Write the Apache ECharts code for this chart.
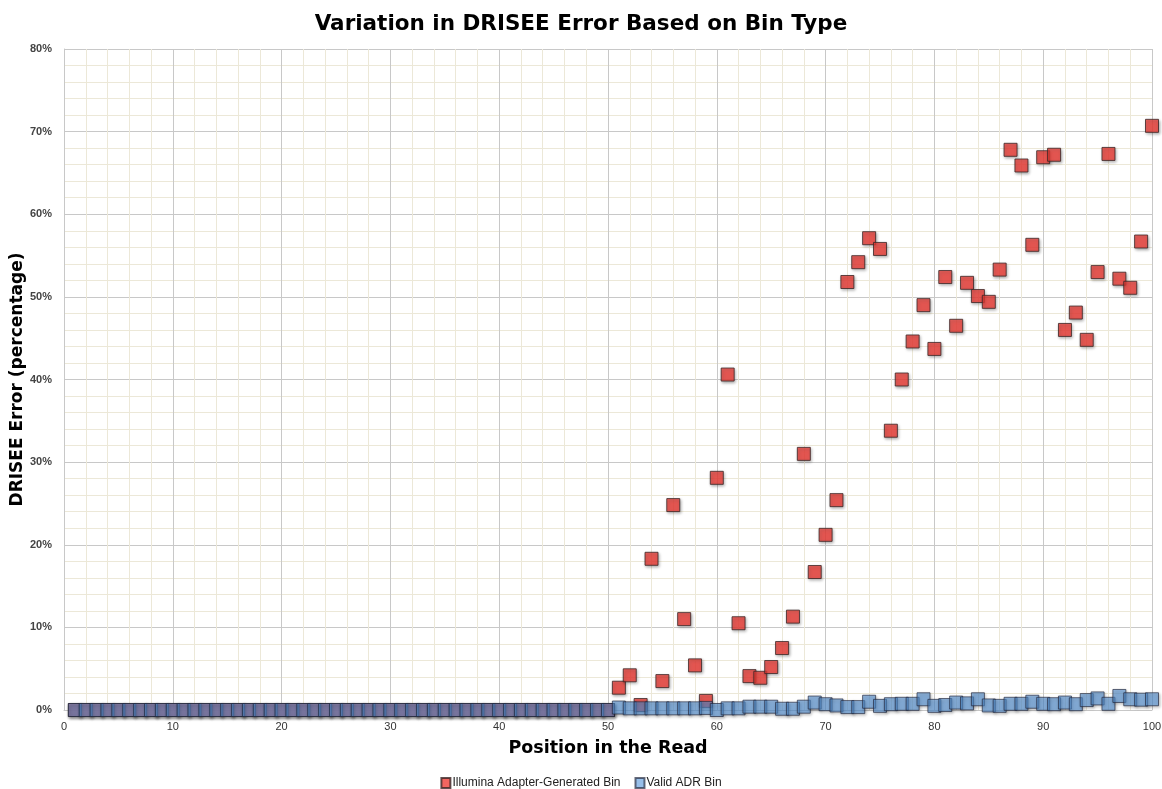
<!DOCTYPE html>
<html>
<head>
<meta charset="utf-8">
<script src="https://cdn.jsdelivr.net/npm/echarts@6/dist/echarts.min.js"></script>
<style>
html,body{margin:0;padding:0;background:#fff;}
#chart{width:1162px;height:789px;}
</style>
</head>
<body>
<div id="chart"></div>
<script>
// Positions in the read (1..100)
const positions = Array.from({length: 100}, (_, i) => i + 1);

// Illumina Adapter-Generated Bin (%), positions 1..50 then 51..100
const illuminaFirst = [0,0,0,0,0,0,0,0,0,0, 0,0,0,0,0,0,0,0,0,0, 0,0,0,0,0,0,0,0,0,0, 0,0,0,0,0,0,0,0,0,0, 0,0,0,0,0,0,0,0,0,0];
const illuminaSecond = [2.7,4.2,0.6,18.3,3.5,24.8,11.0,5.4,1.1,28.1,
  40.6,10.5,4.1,3.9,5.2,7.5,11.3,31.0,16.7,21.2,
  25.4,51.8,54.2,57.1,55.8,33.8,40.0,44.6,49.0,43.7,
  52.4,46.5,51.7,50.1,49.4,53.3,67.8,65.9,56.3,66.9,
  67.2,46.0,48.1,44.8,53.0,67.3,52.2,51.1,56.7,70.7];

// Valid ADR Bin (%)
const adrFirst = [0,0,0,0,0,0,0,0,0,0, 0,0,0,0,0,0,0,0,0,0, 0,0,0,0,0,0,0,0,0,0, 0,0,0,0,0,0,0,0,0,0, 0,0,0,0,0,0,0,0,0,0];
const adrSecond = [0.3,0.2,0.2,0.2,0.2,0.2,0.2,0.2,0.25,0.0,
  0.2,0.2,0.4,0.4,0.4,0.15,0.15,0.4,0.9,0.7,
  0.55,0.35,0.35,1.0,0.5,0.7,0.75,0.75,1.3,0.5,
  0.6,0.9,0.8,1.3,0.55,0.5,0.75,0.75,1.0,0.75,
  0.7,0.9,0.7,1.2,1.4,0.75,1.7,1.3,1.25,1.3];

const illumina = illuminaFirst.concat(illuminaSecond);
const adr = adrFirst.concat(adrSecond);

const xTicks = [0,10,20,30,40,50,60,70,80,90,100];
const yTicks = ['0%','10%','20%','30%','40%','50%','60%','70%','80%'];

const seriesNames = ['Illumina Adapter-Generated Bin', 'Valid ADR Bin'];

const chart = echarts.init(document.getElementById('chart'), null, {renderer: 'canvas'});
const shadow = {shadowBlur: 3, shadowColor: 'rgba(0,0,0,0.4)', shadowOffsetX: 1, shadowOffsetY: 1.5};

chart.setOption({
  backgroundColor: '#ffffff',
  animation: false,
  title: {
    text: 'Variation in DRISEE Error Based on Bin Type',
    left: 'center',
    top: 8,
    textStyle: {fontFamily: 'DejaVu Sans', fontWeight: 900, fontSize: 21.5, color: '#000'}
  },
  legend: {
    top: 772,
    left: 'center',
    itemWidth: 9,
    itemHeight: 10,
    itemGap: 14,
    icon: 'rect',
    textStyle: {fontFamily: 'Liberation Sans', fontSize: 12, color: '#222', padding: [0,0,0,-3]},
    data: seriesNames
  },
  grid: {left: 64, right: 10, top: 49, bottom: 79, containLabel: false, outerBoundsMode: 'none'},
  xAxis: {
    type: 'value',
    min: 0, max: 100, interval: 10,
    name: 'Position in the Read',
    nameLocation: 'middle',
    nameGap: 29,
    nameMoveOverlap: false,
    nameTextStyle: {fontFamily: 'DejaVu Sans', fontWeight: 'bold', fontSize: 17.5, color: '#000'},
    axisLine: {show: true, lineStyle: {color: '#c8c8c8', width: 1}},
    axisTick: {show: false},
    axisLabel: {
      fontFamily: 'Liberation Sans', fontSize: 11, color: '#333', margin: 11,
      formatter: v => (xTicks.indexOf(v) >= 0 ? String(v) : '')
    },
    splitLine: {show: true, lineStyle: {color: '#c8c8c8', width: 1}},
    minorTick: {show: false, splitNumber: 5},
    minorSplitLine: {show: true, lineStyle: {color: '#ece8d8', width: 1}}
  },
  yAxis: {
    type: 'value',
    min: 0, max: 80, interval: 10,
    name: 'DRISEE Error (percentage)',
    nameLocation: 'middle',
    nameGap: 38,
    nameMoveOverlap: false,
    nameTextStyle: {fontFamily: 'DejaVu Sans', fontWeight: 'bold', fontSize: 17, color: '#000'},
    axisLine: {show: true, lineStyle: {color: '#c8c8c8', width: 1}},
    axisTick: {show: false},
    axisLabel: {
      fontFamily: 'Liberation Sans', fontSize: 11, fontWeight: 'bold', color: '#444', margin: 12,
      formatter: v => yTicks[Math.round(v / 10)] || ''
    },
    splitLine: {show: true, lineStyle: {color: '#c8c8c8', width: 1}},
    minorTick: {show: false, splitNumber: 5},
    minorSplitLine: {show: true, lineStyle: {color: '#ece8d8', width: 1}}
  },
  series: [
    {
      name: seriesNames[0],
      type: 'scatter',
      symbol: 'rect',
      symbolSize: 13,
      data: positions.map((p, i) => [p, illumina[i]]),
      itemStyle: Object.assign({color: '#ef3e38', borderColor: '#3a2626', borderWidth: 1}, shadow),
      z: 2
    },
    {
      name: seriesNames[1],
      type: 'scatter',
      symbol: 'rect',
      symbolSize: 13,
      data: positions.map((p, i) => [p, adr[i]]),
      itemStyle: Object.assign({color: 'rgba(85,150,218,0.76)', borderColor: 'rgba(35,40,60,0.85)', borderWidth: 1}, shadow),
      z: 3
    }
  ]
});
</script>
</body>
</html>
